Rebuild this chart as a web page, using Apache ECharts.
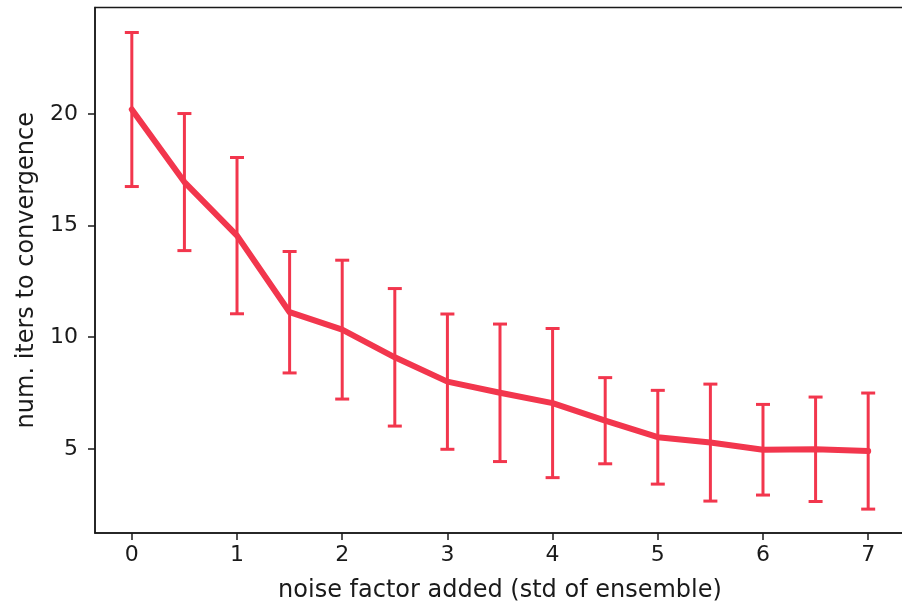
<!DOCTYPE html>
<html>
<head>
<meta charset="utf-8">
<script src="https://cdn.jsdelivr.net/npm/echarts@6/dist/echarts.min.js"></script>
<style>
  html, body { margin: 0; padding: 0; background: #fff; overflow: hidden; }
  #chart { width: 902px; height: 606px; }
</style>
</head>
<body>
<div id="chart"></div>
<script>
// Noise factor (std of ensemble) vs. iterations needed to converge
const noiseFactor = [0, 0.5, 1, 1.5, 2, 2.5, 3, 3.5, 4, 4.5, 5, 5.5, 6, 6.5, 7];
const meanIters   = [20.2, 16.95, 14.55, 11.12, 10.34, 9.1, 8.01, 7.51, 7.05, 6.26, 5.52, 5.28, 4.96, 4.98, 4.9];
const stdIters    = [3.45, 3.07, 3.5, 2.72, 3.11, 3.08, 3.03, 3.08, 3.34, 1.93, 2.1, 2.62, 2.03, 2.34, 2.6];
const xTicks = [0, 1, 2, 3, 4, 5, 6, 7];
const yTicks = [5, 10, 15, 20];

const RED = '#f2364d';
const INK = '#1a1a1a';
const FONT = 'DejaVu Sans';

const lineData = noiseFactor.map((x, i) => [x, meanIters[i]]);
const errData = noiseFactor.map((x, i) => [x, meanIters[i] - stdIters[i], meanIters[i] + stdIters[i]]);

const chart = echarts.init(document.getElementById('chart'), null, { renderer: 'canvas' });

chart.setOption({
  animation: false,
  backgroundColor: '#fff',
  grid: {
    // plot frame runs slightly past the right edge of the canvas
    left: 95, top: 7.5, width: 810, bottom: 73,
    containLabel: false,
    outerBoundsMode: 'none',
    show: true, borderColor: INK, borderWidth: 1.5, backgroundColor: 'transparent'
  },
  xAxis: {
    type: 'value',
    min: -0.35, max: 7.35,
    name: 'noise factor added (std of ensemble)',
    nameLocation: 'middle',
    nameGap: 46,
    nameTextStyle: { fontFamily: FONT, fontSize: 24, color: INK },
    axisLine: { show: true, onZero: false, lineStyle: { color: INK, width: 1.5 } },
    axisTick: { show: true, length: 7, lineStyle: { color: INK, width: 1.5 }, customValues: xTicks },
    axisLabel: { fontFamily: FONT, fontSize: 22, color: INK, margin: 11, customValues: xTicks },
    splitLine: { show: false }
  },
  yAxis: {
    type: 'value',
    min: 1.23, max: 24.77,
    name: 'num. iters to convergence',
    nameLocation: 'middle',
    nameRotate: 90,
    nameGap: 56,
    nameTextStyle: { fontFamily: FONT, fontSize: 24, color: INK },
    axisLine: { show: true, onZero: false, lineStyle: { color: INK, width: 1.5 } },
    axisTick: { show: true, length: 7, lineStyle: { color: INK, width: 1.5 }, customValues: yTicks },
    axisLabel: { fontFamily: FONT, fontSize: 22, color: INK, margin: 17, customValues: yTicks },
    splitLine: { show: false }
  },
  series: [
    {
      // vertical error bars with caps
      type: 'custom',
      data: errData,
      z: 2,
      clip: false,
      renderItem: function (params, api) {
        const x = api.value(0);
        const lo = api.coord([x, api.value(1)]);
        const hi = api.coord([x, api.value(2)]);
        const cap = 7;
        const style = { stroke: RED, lineWidth: 3, fill: null };
        return {
          type: 'group',
          children: [
            { type: 'line', shape: { x1: lo[0], y1: lo[1], x2: hi[0], y2: hi[1] }, style: style },
            { type: 'line', shape: { x1: hi[0] - cap, y1: hi[1], x2: hi[0] + cap, y2: hi[1] }, style: style },
            { type: 'line', shape: { x1: lo[0] - cap, y1: lo[1], x2: lo[0] + cap, y2: lo[1] }, style: style }
          ]
        };
      }
    },
    {
      type: 'line',
      data: lineData,
      z: 3,
      showSymbol: false,
      symbol: 'none',
      lineStyle: { color: RED, width: 6, join: 'round', cap: 'round' }
    }
  ]
});
</script>
</body>
</html>
